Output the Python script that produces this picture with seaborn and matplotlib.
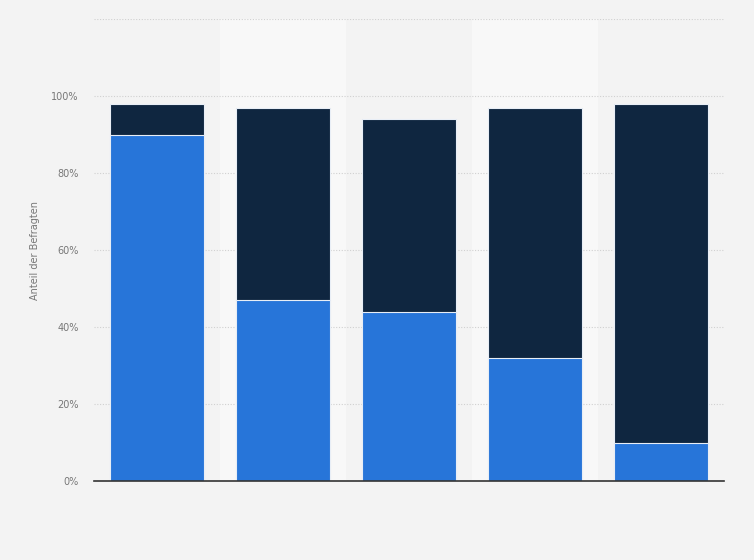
import numpy as np
import pandas as pd
import matplotlib
matplotlib.use("Agg")
import matplotlib.pyplot as plt
import seaborn as sns

# ---------- Data ---------- #
categories = ["A", "B", "C", "D", "E"]
unten = [90, 47, 44, 32, 10]      # blau
oben = [8, 50, 50, 65, 88]        # dunkel

df = pd.DataFrame({"Kategorie": categories, "unten": unten, "oben": oben})
df["gesamt"] = df["unten"] + df["oben"]

sns.set_style("white")
plt.rcParams["font.family"] = ["DejaVu Sans"]

fig = plt.figure(figsize=(7.54, 5.6), dpi=100, facecolor="#f3f3f3")
ax = fig.add_axes([94 / 754, 1 - 481 / 560, 630 / 754, 462 / 560])
ax.set_facecolor("#f3f3f3")

# alternating column bands
for i in [1, 3]:
    ax.axvspan(i - 0.5, i + 0.5, color="#f8f8f8", zorder=0, lw=0)

# stacked bars
sns.barplot(data=df, x="Kategorie", y="gesamt", color="#0f2640", width=0.75,
            edgecolor="#e8eef6", linewidth=0.8, saturation=1, ax=ax, zorder=3)
sns.barplot(data=df, x="Kategorie", y="unten", color="#2775d9", width=0.75,
            edgecolor="#e8eef6", linewidth=0.8, saturation=1, ax=ax, zorder=4)

ax.set_xlim(-0.5, 4.5)
ax.set_ylim(0, 120)
ax.set_yticks([0, 20, 40, 60, 80, 100, 120])
ax.set_yticklabels(["0%", "20%", "40%", "60%", "80%", "100%", ""])
ax.grid(axis="y", color="#d0d0d0", linestyle=(0, (1, 1.5)), linewidth=0.8, zorder=1)
ax.set_axisbelow(True)
ax.tick_params(axis="y", length=0, labelsize=7, labelcolor="#777777", pad=11)
ax.set_xticks([])
ax.set_xlabel("")
ax.set_ylabel("Anteil der Befragten", fontsize=7, color="#777777")
ax.yaxis.set_label_coords(-54 / 630, 0.5)

for s in ["top", "right", "left"]:
    ax.spines[s].set_visible(False)
ax.spines["bottom"].set_color("#333333")
ax.spines["bottom"].set_linewidth(1.2)
ax.spines["bottom"].set_zorder(5)

plt.savefig("out.png", dpi=100, facecolor=fig.get_facecolor())
